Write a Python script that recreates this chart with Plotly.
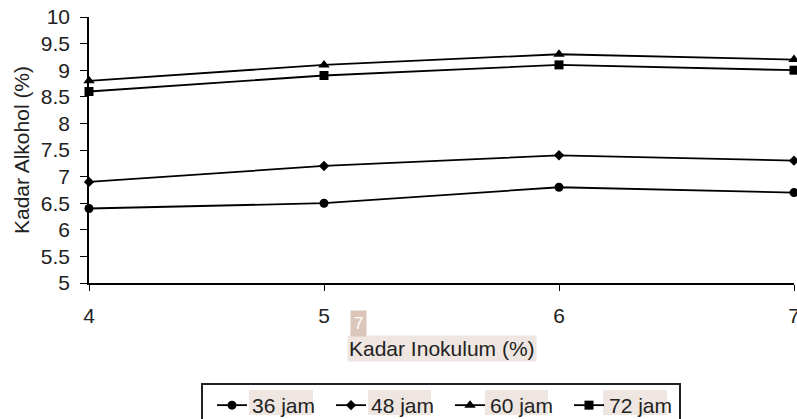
import plotly.graph_objects as go

x_vals = [4, 5, 6, 7]
y_ticks = [5, 5.5, 6, 6.5, 7, 7.5, 8, 8.5, 9, 9.5, 10]
y_tick_text = ["5", "5.5", "6", "6.5", "7", "7.5", "8", "8.5", "9", "9.5", "10"]
s36 = [6.4, 6.5, 6.8, 6.7]
s48 = [6.9, 7.2, 7.4, 7.3]
s60 = [8.8, 9.1, 9.3, 9.2]
s72 = [8.6, 8.9, 9.1, 9.0]
names = ["36 jam", "48 jam", "60 jam", "72 jam"]
symbols = ["circle", "diamond", "triangle-up", "square"]
sizes = [9, 8, 10, 9]

fig = go.Figure()
for ys, nm, sym, sz in zip([s36, s48, s60, s72], names, symbols, sizes):
    fig.add_trace(go.Scatter(
        x=x_vals, y=ys, name=nm, mode="lines+markers",
        line=dict(color="black", width=1.8),
        marker=dict(symbol=sym, size=sz, color="black"),
        cliponaxis=False,
    ))

# the page body margin is removed (post_script), so figure pixels = window pixels.
# The figure is a bit larger than the 797x419 window so the right/bottom edges are cut
# by the window like in the reference.
W, H = 810, 440
L, T = 89, 17
X_RIGHT = 794          # pixel of x = 7
PLOT_BOTTOM = 283      # pixel of y = 5
R = W - X_RIGHT
B = H - PLOT_BOTTOM
FS = 21

pw = X_RIGHT - L
ph = PLOT_BOTTOM - T

def px_x(p):
    return (p - L) / pw

def px_y(p):
    return (PLOT_BOTTOM - p) / ph

fig.update_layout(
    template="none",
    width=W, height=H,
    margin=dict(l=L, r=R, t=T, b=B, pad=0),
    paper_bgcolor="white", plot_bgcolor="white",
    font=dict(family="Liberation Sans, Arial, sans-serif", size=FS, color="#222"),
    showlegend=True,
    legend=dict(
        orientation="h", x=px_x(441), xanchor="center", y=px_y(383), yanchor="top",
        bordercolor="#222", borderwidth=2, bgcolor="rgba(0,0,0,0)",
        font=dict(size=FS, color="#222"), indentation=9, entrywidth=65,
    ),
    xaxis=dict(
        range=[4, 7], tickvals=x_vals, ticks="outside", ticklen=6,
        tickcolor="black", showline=True, linecolor="black", linewidth=1.5,
        showgrid=False, zeroline=False, tickfont=dict(size=FS),
        ticklabelstandoff=7, automargin=False, ticklabeloverflow="allow",
    ),
    yaxis=dict(
        range=[5, 10], tickvals=y_ticks, ticktext=y_tick_text, ticks="outside", ticklen=7,
        tickcolor="black", showline=True, linecolor="black", linewidth=1.5,
        showgrid=False, zeroline=False, tickfont=dict(size=FS),
        title=dict(text="Kadar Alkohol (%)", font=dict(size=FS), standoff=5),
        ticklabelstandoff=6, automargin=False, ticklabeloverflow="allow",
    ),
)

fig.add_annotation(
    text="Kadar Inokulum (%)", xref="paper", yref="paper",
    x=px_x(442), y=px_y(348), xanchor="center", yanchor="middle", showarrow=False,
    font=dict(size=FS, color="#222"), bgcolor="#efe6e1", borderpad=1,
)
fig.add_annotation(
    text="7", xref="paper", yref="paper",
    x=px_x(358), y=px_y(323), xanchor="center", yanchor="middle", showarrow=False,
    font=dict(size=17, color="white"), bgcolor="#dcc6b9", borderpad=3,
)

# beige highlight behind the legend labels
legend_bg = [(249, 313), (368, 431), (485, 548), (603, 667)]
for x0, x1 in legend_bg:
    fig.add_shape(
        type="rect", xref="paper", yref="paper",
        x0=px_x(x0), x1=px_x(x1), y0=px_y(415), y1=px_y(390),
        fillcolor="#efe6e1", line=dict(width=0), layer="below",
    )

fig.write_html(
    "out.html",
    config={"displayModeBar": False},
    post_script="document.body.style.margin='0';document.body.style.overflow='hidden';",
)
